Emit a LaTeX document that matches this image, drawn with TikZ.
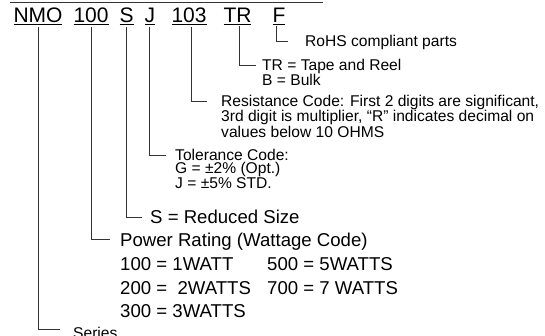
\documentclass[tikz,border=0pt]{standalone}
\usepackage{fontspec}
\setmainfont{Liberation Sans}
\begin{document}
\begin{tikzpicture}[
  x=1pt, y=-1pt,
  code/.style={anchor=base west, inner sep=0pt, outer sep=1.5pt, font=\fontsize{21}{21}\selectfont},
  big/.style={anchor=base west, inner sep=0pt, inner xsep=9pt, font=\fontsize{18.6}{23.5}\selectfont},
  small/.style={anchor=north west, inner sep=0pt, inner xsep=9pt, align=left, font=\fontsize{15.6}{13}\selectfont},
  leg/.style={line width=0.9pt, draw=black!80}
]
\useasboundingbox (0,0) rectangle (545,336);
\draw[leg] (10,2) -- (323,2);

% part number
\node[code] (nmo) at (12,23) {\underline{NMO}};
\node[code] (watt) at (72,23) {\underline{100}};
\node[code] (red) at (118,23) {\underline{S}};
\node[code] (tol) at (143,23) {\underline{J}};
\node[code] (res) at (170,23) {\underline{103}};
\node[code] (pack) at (222,23) {\underline{TR}};
\node[code] (rohs) at (271,23) {\underline{F}};

% descriptions
\node[small, inner xsep=17pt] (rohstext) at (288,35.2) {RoHS compliant parts};
\node[small, inner xsep=6pt] (packtext) at (256,58.7) {TR = Tape and Reel\\B = Bulk};
\node[small, inner xsep=14pt] (restext) at (207,94.7) {Resistance Code: First 2 digits are significant,\\3rd digit is multiplier, “R” indicates decimal on\\values below 10 OHMS};
\node[small] (toltext) at (166,149.2) {Tolerance Code:\\G = ±2\% (Opt.)\\J = ±5\% STD.};
\node[big, inner xsep=8pt] (redtext) at (142,223.7) {S = Reduced Size};
\node[big, inner xsep=10pt] (watttext) at (110,246.7) {Power Rating (Wattage Code)};
\node[big, inner xsep=0pt] (w100) at (120,270.7) {100 = 1WATT};
\node[big, inner xsep=0pt] (w500) at (267,270.7) {500 = 5WATTS};
\node[big, inner xsep=0pt] (w200) at (120,294.2) {200 = \ 2WATTS};
\node[big, inner xsep=0pt] (w700) at (267,294.2) {700 = 7 WATTS};
\node[big, inner xsep=0pt] (w300) at (120,317.7) {300 = 3WATTS};
\node[big, inner xsep=13pt, font=\fontsize{15.6}{15.6}\selectfont] (series) at (60,338) {Series};

% legs
\draw[leg] (nmo.south) |- (series.west |- 0,329);
\draw[leg] (watt.south) |- (watttext.west |- 0,239);
\draw[leg] (red.south) |- (redtext.west |- 0,217);
\draw[leg] (tol.south) |- (toltext.west |- 0,155);
\draw[leg] ([xshift=2pt]res.south) |- (restext.west |- 0,101);
\draw[leg] ([xshift=2pt]pack.south) |- (packtext.west |- 0,65);
\draw[leg] ([xshift=-2.5pt]rohs.south) |- (rohstext.west |- 0,41);
\end{tikzpicture}
\end{document}
